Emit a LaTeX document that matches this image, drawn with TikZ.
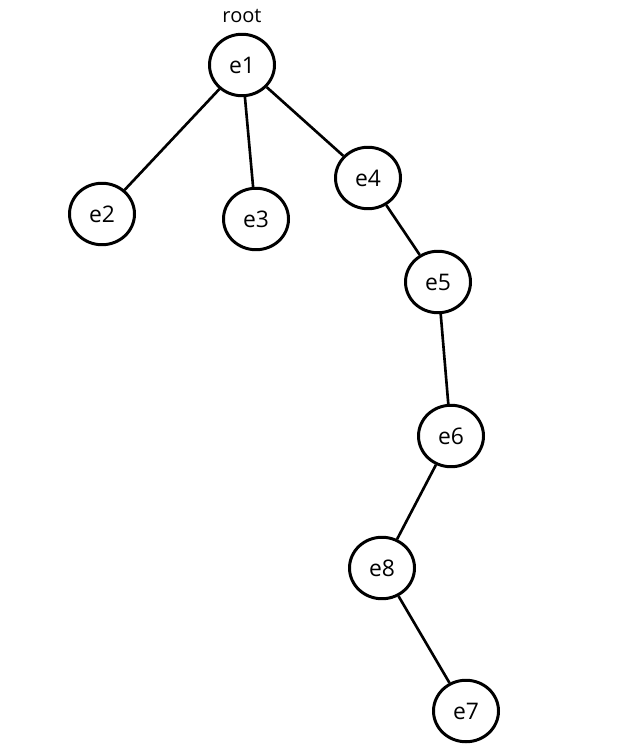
\documentclass[tikz,border=0pt]{standalone}
\usepackage{fontspec}
\setmainfont{Open Sans}
\usetikzlibrary{positioning,shapes.geometric}

\tikzset{
	elem/.style={draw=black, line width=1.7pt, ellipse, inner sep=0pt,
		minimum width=37pt, minimum height=35pt, font=\fontsize{13}{15}\selectfont},
	link/.style={draw=black, line width=1.5pt}
}

\begin{document}
\begin{tikzpicture}[x=0.02cm, y=-0.02cm]
			\useasboundingbox (0,0) rectangle (636,746);
			% tree nodes
			\node [elem] (e1) at (242,65) {e1};
			\node [elem] (e2) at (102,214) {e2};
			\node [elem] (e3) at (256,219) {e3};
			\node [elem] (e4) at (368,178) {e4};
			\node [elem] (e5) at (438,282) {e5};
			\node [elem] (e6) at (451,436) {e6};
			\node [elem] (e8) at (382,568) {e8};
			\node [elem] (e7) at (466,711) {e7};
			\node [font=\fontsize{11.4}{13}\selectfont] (rootlbl) at (242,16) {root};
			% edges
			\draw [link] (e1) -- (e2);
			\draw [link] (e1) -- (e3);
			\draw [link] (e1) -- (e4);
			\draw [link] (e4) -- (e5);
			\draw [link] (e5) -- (e6);
			\draw [link] (e6) -- (e8);
			\draw [link] (e8) -- (e7);
			\end{tikzpicture}
\end{document}
